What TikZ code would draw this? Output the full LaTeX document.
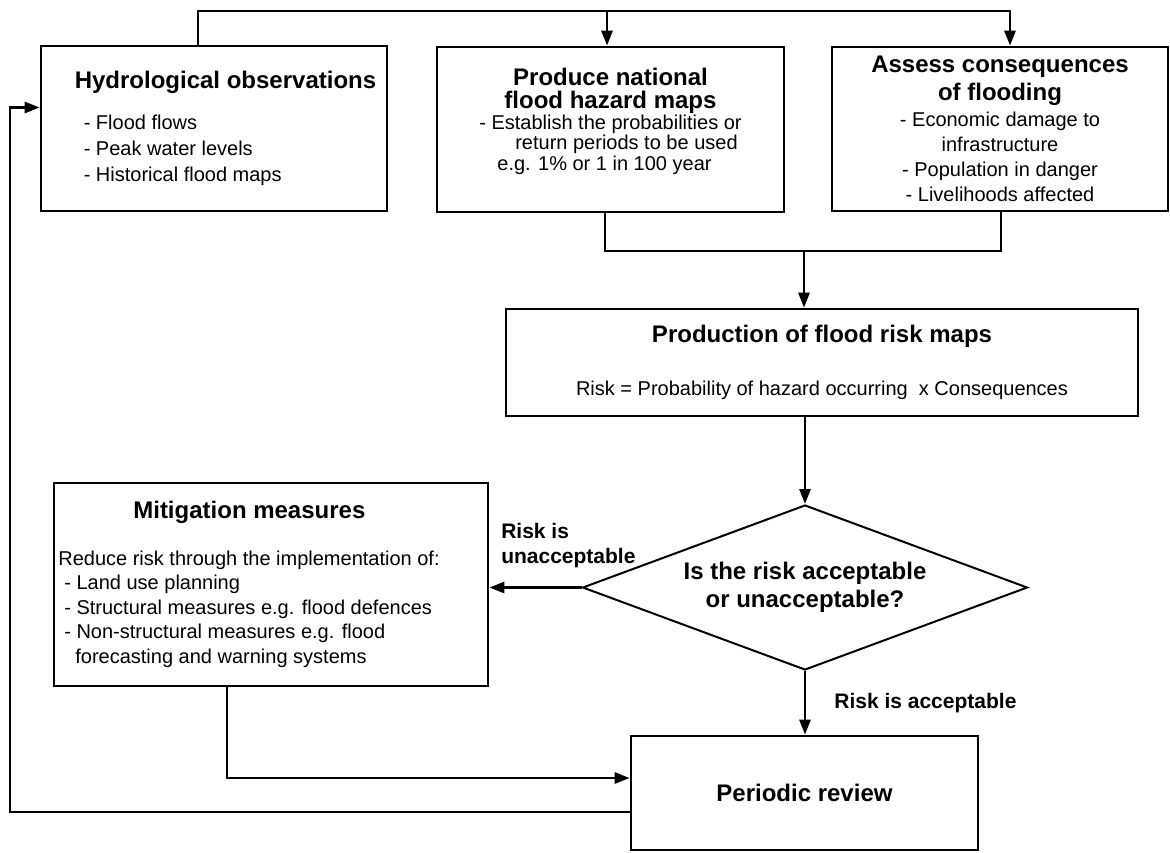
\documentclass[tikz,border=0pt]{standalone}
\usepackage{fontspec}
\setmainfont{Liberation Sans}
\usetikzlibrary{arrows.meta,shapes.geometric,positioning}

\tikzset{
  box/.style={draw, line width=2.7pt, inner sep=0pt, font=\fontsize{20}{25}\selectfont},
  decision/.style={draw, diamond, aspect=2.7, line width=2pt, inner sep=0pt,
    minimum width=445pt, minimum height=165pt, align=center,
    font=\fontsize{24}{28}\selectfont\bfseries},
  flow/.style={line width=2.7pt, -{Triangle[length=15pt,width=11pt]}},
  link/.style={line width=2.7pt},
  lbl/.style={inner sep=0pt, font=\fontsize{21}{25}\selectfont\bfseries},
}
\newcommand{\boxtitle}[1]{{\fontsize{24}{28}\selectfont\bfseries #1}}

\begin{document}
\begin{tikzpicture}[x=1pt,y=-1pt]
\useasboundingbox (0,0) rectangle (1170,852);

% top row
\node[box, minimum width=346pt, minimum height=165pt, align=left,
  font=\fontsize{20}{26}\selectfont] (hydro) at (214,128.5)
  {\hspace*{23pt}\boxtitle{Hydrological observations}\\[15pt]
   \hspace*{32pt}- Flood flows\\
   \hspace*{32pt}- Peak water levels\\
   \hspace*{32pt}- Historical flood maps};

\node[box, minimum width=347pt, minimum height=165pt, align=center,
  font=\fontsize{20}{20.5}\selectfont] (haz) at (610.5,129.5)
  {\boxtitle{Produce national}\\[3pt]
   \boxtitle{flood hazard maps}\\
   - Establish the probabilities or\\
   \hspace*{32pt}return periods to be used\\
   e.g. 1\% or 1 in 100 year\hspace*{12pt}\mbox{}\\
   \mbox{}};

\node[box, minimum width=336pt, minimum height=164pt, align=center] (cons) at (1000,129)
  {\boxtitle{Assess consequences}\\[3pt]
   \boxtitle{of flooding}\\[1.6pt]
   - Economic damage to\\
   infrastructure\\
   - Population in danger\\
   - Livelihoods affected};

% middle
\node[box, minimum width=632pt, minimum height=107pt, align=center] (risk) at (822,362.5)
  {\boxtitle{Production of flood risk maps}\\[28.6pt]
   Risk = Probability of hazard occurring~ x Consequences};

\node[decision] (decide) at (805,587.5) {Is the risk acceptable\\or unacceptable?};

\node[box, minimum width=434pt, minimum height=203pt, align=left,
  font=\fontsize{20}{24.5}\selectfont] (mitig) at (271,584.5)
  {\hspace*{75pt}\boxtitle{Mitigation measures}\\[22pt]
   Reduce risk through the implementation of:\hspace*{44pt}\mbox{}\\
   \hspace*{6pt}- Land use planning\\
   \hspace*{6pt}- Structural measures e.g. flood defences\\
   \hspace*{6pt}- Non-structural measures e.g. flood\\
   \hspace*{17pt}forecasting and warning systems};

\node[box, minimum width=347pt, minimum height=114pt] (review) at (804.5,793)
  {\boxtitle{Periodic review}};

% connectors
\coordinate (top) at (607,11);
\draw[link] ([xshift=-16pt]hydro.north) |- (top);
\draw[flow] (top) -| ([xshift=10pt]cons.north);
\draw[flow] (top) -- (top |- haz.north);

\coordinate (join) at (804,251);
\draw[link] ([xshift=-5.5pt]haz.south) |- (join) -| ([xshift=1pt]cons.south);
\draw[flow] (join) -- (join |- risk.north);

\draw[flow] (decide.north |- risk.south) -- (decide.north);
\draw[flow] (decide.west) -- node[lbl, anchor=west, align=left, xshift=-35.5pt, yshift=41.5pt] (unacclbl)
  {Risk is\\unacceptable} (mitig.east |- decide.west);
\draw[flow] (decide.south) -- node[lbl, anchor=west, xshift=28pt] (acclbl)
  {Risk is acceptable} (decide.south |- review.north);

\draw[flow] ([xshift=-44pt]mitig.south) |- ([yshift=15pt]review.west);
\coordinate (loop) at (10,460);
\draw[flow] ([yshift=-19pt]review.west) -| (loop) |- ([yshift=21pt]hydro.west);
\end{tikzpicture}
\end{document}
